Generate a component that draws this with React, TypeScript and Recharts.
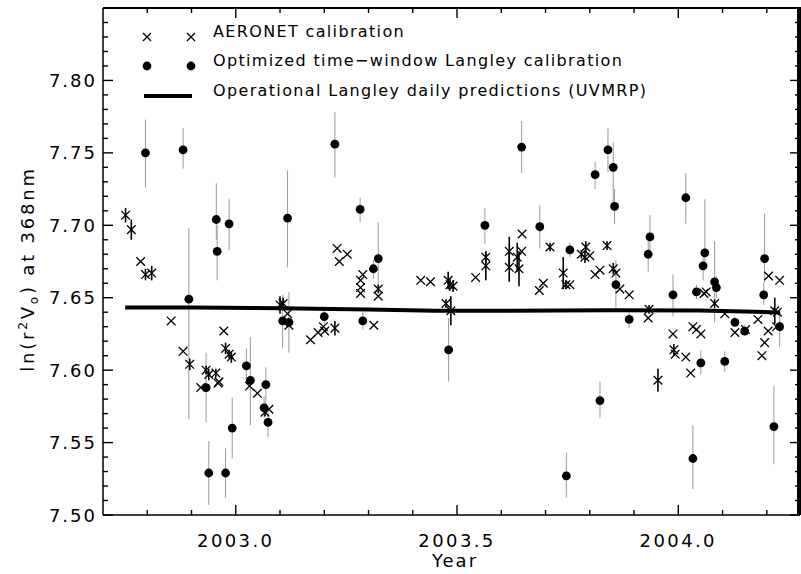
import { ComposedChart, Scatter, XAxis, YAxis, ErrorBar } from "recharts";

const FONT = "'DejaVu Sans', sans-serif";

// layout
const WIDTH = 801;
const HEIGHT = 574;
const MARGIN = { top: 8, right: 1, bottom: 0, left: 0 };
const YAXIS_W = 103;
const XAXIS_H = 59;
const PLOT_W = WIDTH - MARGIN.left - MARGIN.right - YAXIS_W;
const PLOT_H = HEIGHT - MARGIN.top - MARGIN.bottom - XAXIS_H;

// axis ticks (minor ticks without labels)
const xTicks = [2002.8, 2002.9, 2003.0, 2003.1, 2003.2, 2003.3, 2003.4, 2003.5, 2003.6, 2003.7, 2003.8, 2003.9, 2004.0, 2004.1, 2004.2];
const xLabels = [2003.0, 2003.5, 2004.0];
const yTicks = [
  7.5, 7.51, 7.52, 7.53, 7.54, 7.55, 7.56, 7.57, 7.58, 7.59, 7.6, 7.61, 7.62, 7.63, 7.64, 7.65, 7.66, 7.67,
  7.68, 7.69, 7.7, 7.71, 7.72, 7.73, 7.74, 7.75, 7.76, 7.77, 7.78, 7.79, 7.8, 7.81, 7.82, 7.83, 7.84,
];
const yLabels = [7.5, 7.55, 7.6, 7.65, 7.7, 7.75, 7.8];
const xDomain = [2002.7, 2004.275];
const yDomain = [7.5, 7.85];

const legendLabels = [
  "AERONET calibration",
  "Optimized time−window Langley calibration",
  "Operational Langley daily predictions (UVMRP)",
];

// Optimized time-window Langley calibration (value with error range)
const optYear = [
  2002.796, 2002.881, 2002.894, 2002.933, 2002.939, 2002.956, 2002.958, 2002.977, 2002.985, 2002.992,
  2003.024, 2003.033, 2003.064, 2003.068, 2003.073, 2003.106, 2003.117, 2003.12, 2003.2, 2003.224,
  2003.281, 2003.287, 2003.311, 2003.322, 2003.481, 2003.563, 2003.646, 2003.687, 2003.747, 2003.755,
  2003.812, 2003.823, 2003.841, 2003.853, 2003.856, 2003.859, 2003.889, 2003.932, 2003.936, 2003.988,
  2004.017, 2004.033, 2004.041, 2004.051, 2004.056, 2004.06, 2004.082, 2004.086, 2004.105, 2004.128,
  2004.15, 2004.193, 2004.195, 2004.216, 2004.229,
];
const optValue = [
  7.75, 7.752, 7.649, 7.588, 7.529, 7.704, 7.682, 7.529, 7.701, 7.56,
  7.603, 7.593, 7.574, 7.59, 7.564, 7.634, 7.705, 7.633, 7.637, 7.756,
  7.711, 7.634, 7.67, 7.677, 7.614, 7.7, 7.754, 7.699, 7.527, 7.683,
  7.735, 7.579, 7.752, 7.74, 7.713, 7.659, 7.635, 7.68, 7.692, 7.652,
  7.719, 7.539, 7.654, 7.605, 7.672, 7.681, 7.661, 7.657, 7.606, 7.633,
  7.627, 7.652, 7.677, 7.561, 7.63,
];
const optLow = [
  7.726, 7.739, 7.566, 7.564, 7.507, 7.69, 7.662, 7.512, 7.683, 7.539,
  7.594, 7.562, 7.567, 7.575, 7.554, 7.615, 7.671, 7.612, 7.632, 7.733,
  7.702, 7.628, 7.663, 7.655, 7.592, 7.687, 7.736, 7.684, 7.512, 7.678,
  7.725, 7.567, 7.737, 7.713, 7.701, 7.643, 7.629, 7.668, 7.68, 7.637,
  7.701, 7.518, 7.649, 7.597, 7.662, 7.672, 7.633, 7.65, 7.599, 7.63,
  7.624, 7.645, 7.66, 7.535, 7.616,
];
const optHigh = [
  7.773, 7.767, 7.698, 7.612, 7.551, 7.729, 7.7, 7.546, 7.718, 7.581,
  7.615, 7.623, 7.582, 7.602, 7.572, 7.652, 7.738, 7.654, 7.643, 7.778,
  7.719, 7.64, 7.676, 7.702, 7.636, 7.712, 7.772, 7.714, 7.543, 7.688,
  7.744, 7.592, 7.767, 7.757, 7.725, 7.676, 7.64, 7.692, 7.707, 7.666,
  7.736, 7.562, 7.659, 7.614, 7.68, 7.718, 7.689, 7.665, 7.613, 7.637,
  7.631, 7.66, 7.708, 7.589, 7.64,
];

// AERONET calibration (value, half error)
const aerYear = [
  2002.751, 2002.764, 2002.785, 2002.796, 2002.81, 2002.854, 2002.881, 2002.896, 2002.921, 2002.933,
  2002.939, 2002.955, 2002.96, 2002.962, 2002.973, 2002.977, 2002.985, 2002.99, 2003.031, 2003.049,
  2003.066, 2003.075, 2003.1, 2003.107, 2003.117, 2003.12, 2003.169, 2003.186, 2003.198, 2003.201,
  2003.224, 2003.229, 2003.234, 2003.252, 2003.282, 2003.282, 2003.282, 2003.287, 2003.312, 2003.322,
  2003.322, 2003.418, 2003.44, 2003.475, 2003.48, 2003.484, 2003.491, 2003.486, 2003.542, 2003.565,
  2003.565, 2003.618, 2003.618, 2003.636, 2003.64, 2003.646, 2003.647, 2003.686, 2003.695, 2003.71,
  2003.74, 2003.746, 2003.755, 2003.781, 2003.789, 2003.791, 2003.8, 2003.812, 2003.823, 2003.839,
  2003.853, 2003.859, 2003.868, 2003.889, 2003.932, 2003.934, 2003.954, 2003.988, 2003.99, 2003.993,
  2004.017, 2004.028, 2004.033, 2004.041, 2004.051, 2004.058, 2004.063, 2004.082, 2004.105, 2004.128,
  2004.152, 2004.18, 2004.189, 2004.195, 2004.203, 2004.204, 2004.218, 2004.224, 2004.222, 2004.229,
];
const aerValue = [
  7.707, 7.697, 7.675, 7.666, 7.667, 7.634, 7.613, 7.604, 7.588, 7.6,
  7.597, 7.598, 7.591, 7.592, 7.627, 7.615, 7.611, 7.609, 7.589, 7.584,
  7.571, 7.573, 7.645, 7.646, 7.639, 7.631, 7.621, 7.626, 7.63, 7.627,
  7.629, 7.684, 7.675, 7.68, 7.662, 7.657, 7.653, 7.666, 7.631, 7.656,
  7.651, 7.662, 7.661, 7.646, 7.662, 7.659, 7.658, 7.641, 7.664, 7.678,
  7.672, 7.682, 7.671, 7.678, 7.67, 7.682, 7.694, 7.655, 7.66, 7.685,
  7.667, 7.659, 7.659, 7.68, 7.678, 7.685, 7.679, 7.666, 7.669, 7.686,
  7.67, 7.667, 7.656, 7.652, 7.636, 7.642, 7.593, 7.625, 7.614, 7.611,
  7.609, 7.598, 7.63, 7.628, 7.625, 7.653, 7.654, 7.646, 7.639, 7.626,
  7.628, 7.635, 7.61, 7.619, 7.627, 7.665, 7.641, 7.64, 7.63, 7.662,
];
const aerErr = [
  0.005, 0.007, 0, 0.004, 0.005, 0, 0, 0.004, 0, 0.003,
  0.004, 0.003, 0, 0, 0, 0.004, 0.003, 0.004, 0, 0,
  0.003, 0, 0.006, 0.004, 0, 0, 0, 0, 0, 0,
  0.005, 0, 0, 0, 0, 0, 0, 0, 0, 0.003,
  0, 0, 0, 0.003, 0.006, 0.004, 0.004, 0.01, 0, 0.004,
  0.01, 0.01, 0.01, 0.01, 0.012, 0, 0, 0, 0, 0.003,
  0.011, 0.003, 0, 0.003, 0.004, 0.004, 0, 0, 0, 0.003,
  0.004, 0, 0, 0, 0, 0.003, 0.008, 0, 0.004, 0,
  0, 0, 0, 0, 0, 0, 0, 0.003, 0, 0,
  0, 0, 0, 0, 0, 0, 0.009, 0, 0, 0,
];

// Operational Langley daily predictions (UVMRP)
const langleyYear = [2002.75, 2002.9, 2003.1, 2003.3, 2003.45, 2003.6, 2003.85, 2004.05, 2004.15, 2004.23];
const langleyValue = [7.6432, 7.6433, 7.6428, 7.6418, 7.641, 7.641, 7.6414, 7.6412, 7.6404, 7.6398];

const optimized = optYear.map((x, i) => ({
  x,
  y: optValue[i],
  err: [optValue[i] - optLow[i], optHigh[i] - optValue[i]],
}));
const aeronet = aerYear.map((x, i) => ({ x, y: aerValue[i], err: aerErr[i] }));
const langley = langleyYear.map((x, i) => ({ x, y: langleyValue[i] }));

const isIn = (v: number, list: number[]) => list.some((l) => Math.abs(l - v) < 1e-6);

const crossPath = (cx: number, cy: number, s: number) =>
  `M${cx - s},${cy - s}L${cx + s},${cy + s}M${cx - s},${cy + s}L${cx + s},${cy - s}`;

const CrossShape = (p: any) => (
  <path d={crossPath(p.cx, p.cy, 4.3)} stroke="#000" strokeWidth={1.3} fill="none" />
);
const DotShape = (p: any) => <circle cx={p.cx} cy={p.cy} r={4.4} fill="#000" />;
const NoShape = () => <g />;

// bottom tick also draws the matching inward tick on the top frame
const BottomTick = (p: any) => {
  const v = p.payload.value;
  const major = isIn(v, xLabels);
  const len = major ? 10 : 5;
  const top = p.y - PLOT_H;
  return (
    <g>
      <line x1={p.x} x2={p.x} y1={p.y} y2={p.y - len} stroke="#000" strokeWidth={1.4} />
      <line x1={p.x} x2={p.x} y1={top} y2={top + len} stroke="#000" strokeWidth={1.4} />
      {major && (
        <text x={p.x} y={p.y + 32} textAnchor="middle" fontSize={18} fontFamily={FONT} letterSpacing={2.4} fill="#000">
          {v.toFixed(1)}
        </text>
      )}
    </g>
  );
};

// left tick also draws the matching inward tick on the right frame
const LeftTick = (p: any) => {
  const v = p.payload.value;
  const major = isIn(v, yLabels);
  const len = major ? 10 : 5;
  const right = p.x + PLOT_W;
  return (
    <g>
      <line x1={p.x} x2={p.x + len} y1={p.y} y2={p.y} stroke="#000" strokeWidth={1.4} />
      <line x1={right} x2={right - len} y1={p.y} y2={p.y} stroke="#000" strokeWidth={1.4} />
      {major && (
        <text x={p.x - 6} y={p.y + 6.5} textAnchor="end" fontSize={18} fontFamily={FONT} letterSpacing={2} fill="#000">
          {v.toFixed(2)}
        </text>
      )}
    </g>
  );
};

const YTitle = () => (
  <text transform="translate(34,269) rotate(-90)" textAnchor="middle" fontSize={18} fontFamily={FONT} letterSpacing={2.8} fill="#000">
    ln(r
    <tspan dy={-7} fontSize={12}>2</tspan>
    <tspan dy={7}>V</tspan>
    <tspan dy={4} fontSize={12}>o</tspan>
    <tspan dy={-4}>) at 368nm</tspan>
  </text>
);

const legendText = { fontSize: 16, fontFamily: FONT, letterSpacing: 1.35, fill: "#000" };

// x title, top/right sides of the frame and the legend key
const XTitle = () => {
  const left = MARGIN.left + YAXIS_W;
  const right = left + PLOT_W;
  const top = MARGIN.top;
  const bottom = top + PLOT_H;
  return (
    <g>
      <path d={`M${left},${top}H${right}V${bottom}`} stroke="#000" strokeWidth={2} fill="none" />
      <text x={455} y={567} textAnchor="middle" fontSize={18} fontFamily={FONT} letterSpacing={2} fill="#000">
        Year
      </text>
      <g>
        <path d={crossPath(147, 37, 4)} stroke="#000" strokeWidth={1.3} fill="none" />
        <path d={crossPath(191, 37, 4)} stroke="#000" strokeWidth={1.3} fill="none" />
        <text x={213} y={37} {...legendText}>{legendLabels[0]}</text>
        <circle cx={147} cy={66} r={4.4} fill="#000" />
        <circle cx={191} cy={66} r={4.4} fill="#000" />
        <text x={213} y={66} {...legendText}>{legendLabels[1]}</text>
        <line x1={144} x2={192} y1={96} y2={96} stroke="#000" strokeWidth={4} />
        <text x={213} y={96} {...legendText}>{legendLabels[2]}</text>
      </g>
    </g>
  );
};

export default function App() {
  return (
    <div style={{ position: "absolute", left: 0, top: 0, width: WIDTH, height: HEIGHT, background: "#fff" }}>
      <ComposedChart width={WIDTH} height={HEIGHT} margin={MARGIN}>
        <XAxis
          xAxisId="bottom"
          type="number"
          dataKey="x"
          domain={xDomain}
          allowDataOverflow
          ticks={xTicks}
          interval={0}
          height={XAXIS_H}
          tickSize={0}
          tickMargin={0}
          tickLine={false}
          tick={<BottomTick />}
          axisLine={{ stroke: "#000", strokeWidth: 1.5 }}
          label={{ content: () => <XTitle /> }}
        />
        <YAxis
          yAxisId="left"
          type="number"
          dataKey="y"
          domain={yDomain}
          allowDataOverflow
          ticks={yTicks}
          interval={0}
          width={YAXIS_W}
          tickSize={0}
          tickMargin={0}
          tickLine={false}
          tick={<LeftTick />}
          axisLine={{ stroke: "#000", strokeWidth: 1.5 }}
          label={{ content: () => <YTitle /> }}
        />
        <Scatter
          name={legendLabels[2]}
          data={langley}
          xAxisId="bottom"
          yAxisId="left"
          line={{ stroke: "#000", strokeWidth: 4 }}
          lineType="joint"
          shape={<NoShape />}
          isAnimationActive={false}
        />
        <Scatter
          name={legendLabels[1]}
          data={optimized}
          xAxisId="bottom"
          yAxisId="left"
          shape={<DotShape />}
          isAnimationActive={false}
        >
          <ErrorBar dataKey="err" direction="y" width={0} stroke="#9a9a9a" strokeWidth={1} isAnimationActive={false} />
        </Scatter>
        <Scatter
          name={legendLabels[0]}
          data={aeronet}
          xAxisId="bottom"
          yAxisId="left"
          shape={<CrossShape />}
          isAnimationActive={false}
        >
          <ErrorBar dataKey="err" direction="y" width={0} stroke="#000" strokeWidth={1.6} isAnimationActive={false} />
        </Scatter>
      </ComposedChart>
      {/* frame overlay (top and right sides of the plot box) */}
      <div
        style={{
          position: "absolute",
          left: MARGIN.left + YAXIS_W,
          top: MARGIN.top - 1,
          width: PLOT_W - 1,
          height: PLOT_H,
          borderTop: "2px solid #000",
          borderRight: "2px solid #000",
          boxSizing: "border-box",
          pointerEvents: "none",
        }}
      />
    </div>
  );
}
